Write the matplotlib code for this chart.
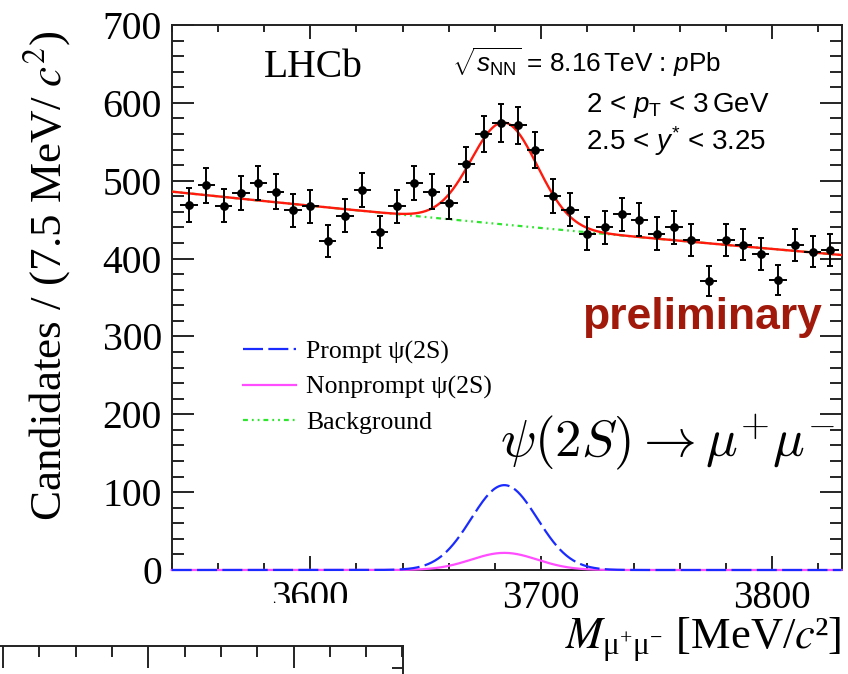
import numpy as np
import matplotlib
matplotlib.use("Agg")
import matplotlib.pyplot as plt
from matplotlib.ticker import MultipleLocator
from matplotlib.patches import Rectangle

# Dimuon invariant-mass bin centres [MeV/c^2] (7.5 MeV bins) and candidates per bin
mass = [3547.5, 3555.0, 3562.5, 3570.0, 3577.5, 3585.0, 3592.5, 3600.0,
        3607.5, 3615.0, 3622.5, 3630.0, 3637.5, 3645.0, 3652.5, 3660.0,
        3667.5, 3675.0, 3682.5, 3690.0, 3697.5, 3705.0, 3712.5, 3720.0,
        3727.5, 3735.0, 3742.5, 3750.0, 3757.5, 3765.0, 3772.5, 3780.0,
        3787.5, 3795.0, 3802.5, 3810.0, 3817.5, 3825.0]
counts = [469, 494, 468, 484, 497, 486, 462, 467,
          422, 455, 488, 434, 467, 497, 486, 472,
          521, 560, 574, 571, 539, 480, 463, 432,
          440, 457, 450, 432, 440, 424, 371, 424,
          418, 406, 373, 417, 409, 411]
half_bin = 3.75

# Fit result: Gaussian signal peaks on an exponential background
sig_mean = 3684.0
sig_sigma = 14.3
prompt_peak = 109.0
nonprompt_peak = 22.0
bkg_at_min = 486.0
bkg_at_max = 404.6

x_range = (3540.0, 3830.0)
y_range = (0.0, 700.0)

legend_labels = ["Prompt \u03c8(2S)", "Nonprompt \u03c8(2S)", "Background"]

SERIF = "Liberation Serif"
SANS = "Liberation Sans"
plt.rcParams["font.family"] = [SERIF, "DejaVu Serif"]
plt.rcParams["mathtext.fontset"] = "stix"
plt.rcParams["mathtext.rm"] = SANS
plt.rcParams["mathtext.it"] = SANS + ":italic"
plt.rcParams["mathtext.bf"] = SANS + ":bold"

W, H = 848, 674
fig = plt.figure(figsize=(W / 100, H / 100), dpi=100)
fig.patch.set_facecolor("white")

ax_l, ax_r, ax_t, ax_b = 171.7, 841.5, 25.0, 570.0
ax = fig.add_axes([ax_l / W, (H - ax_b) / H, (ax_r - ax_l) / W, (ax_b - ax_t) / H])

# model curves
m = np.linspace(x_range[0], x_range[1], 800)
bkg = bkg_at_min * (bkg_at_max / bkg_at_min) ** ((m - x_range[0]) / (x_range[1] - x_range[0]))
shape = np.exp(-0.5 * ((m - sig_mean) / sig_sigma) ** 2)
prompt = prompt_peak * shape
nonprompt = nonprompt_peak * shape
total = bkg + prompt + nonprompt

c_prompt = "#1a2bff"
c_nonprompt = "#ff4dff"
c_bkg = "#2ee62e"
c_total = "#ff1a0d"

h_np, = ax.plot(m, nonprompt, color=c_nonprompt, lw=1.6, clip_on=False, zorder=3)
h_p, = ax.plot(m, prompt, color=c_prompt, lw=1.6, ls=(0, (9, 2.4)), clip_on=False, zorder=3)
h_b, = ax.plot(m, bkg, color=c_bkg, lw=1.6, ls=(0, (2.2, 1.8, 0.8, 1.8, 0.8, 1.8)), zorder=3)
ax.plot(m, total, color=c_total, lw=1.7, zorder=4)

# data with Poisson errors
cnt = np.asarray(counts, dtype=float)
ax.errorbar(mass, cnt, yerr=np.sqrt(cnt), fmt="none", ecolor="black",
            elinewidth=1.4, capsize=2.4, capthick=1.4, zorder=5)
ax.errorbar(mass, cnt, xerr=half_bin, fmt="o", color="black", ms=5.3,
            elinewidth=1.4, capsize=0, zorder=6)

ax.set_xlim(*x_range)
ax.set_ylim(*y_range)

ax.xaxis.set_major_locator(MultipleLocator(100))
ax.xaxis.set_minor_locator(MultipleLocator(20))
ax.yaxis.set_major_locator(MultipleLocator(100))
ax.yaxis.set_minor_locator(MultipleLocator(20))
ax.tick_params(which="both", direction="in", top=True, right=True, width=1.2,
               colors="black", labelsize=28.5)
ax.tick_params(axis="x", which="major", length=10, pad=7.5, labelsize=28)
ax.tick_params(axis="x", which="minor", length=5)
ax.tick_params(axis="y", which="major", length=16, pad=7)
ax.tick_params(axis="y", which="minor", length=8.5)
for s in ax.spines.values():
    s.set_linewidth(1.4)
    s.set_color("#222222")

ax.set_ylabel("Candidates / (7.5 MeV/ $c^{2}$)", fontsize=32.5, loc="top")
ax.yaxis.set_label_coords((73 - ax_l) / (ax_r - ax_l), (ax_b - 30) / (ax_b - ax_t))
ax.set_xlabel(r"$M_{\mathregular{\mu^{+}\mu^{-}}}$ [MeV/$c$" + "\u00b2]", fontsize=32,
              loc="right", va="baseline")
ax.xaxis.set_label_coords(1.0, (ax_b - 649.5) / (ax_b - ax_t))


def axfrac(px, py):
    return (px - ax_l) / (ax_r - ax_l), (ax_b - py) / (ax_b - ax_t)


tx, ty = axfrac(264, 77)
ax.text(tx, ty, "LHCb", transform=ax.transAxes, fontsize=28.5, va="baseline")

tx, ty = axfrac(452, 71.7)
ax.text(tx, ty, r"$\sqrt{s_{\mathrm{NN}}}$ = 8.16$\,$TeV : $p$Pb", transform=ax.transAxes,
        fontsize=18.8, family=SANS, math_fontfamily="custom", va="baseline")
tx, ty = axfrac(586, 111.7)
ax.text(tx, ty, r"2 < $p_{\mathrm{T}}$ < 3$\,$GeV", transform=ax.transAxes,
        fontsize=20, family=SANS, math_fontfamily="custom", va="baseline")
tx, ty = axfrac(586, 150)
ax.text(tx, ty, r"2.5 < $y^{*}$ < 3.25", transform=ax.transAxes,
        fontsize=20, family=SANS, math_fontfamily="custom", va="baseline")

tx, ty = axfrac(822, 329)
ax.text(tx, ty, "preliminary", transform=ax.transAxes, fontsize=32, family=SANS,
        fontweight="bold", color="#a0190b", ha="right", va="baseline", zorder=7)

tx, ty = axfrac(836, 457)
ax.text(tx, ty, r"$\psi(2S) \rightarrow \mu^{+}\mu^{-}$", transform=ax.transAxes,
        fontsize=38, math_fontfamily="cm", ha="right", va="baseline", zorder=7)

lx, ly = axfrac(243, 340.5)
ax.legend([h_p, h_np, h_b], legend_labels, loc="upper left", bbox_to_anchor=(lx, ly),
          frameon=False, fontsize=18.5, handlelength=2.05, handletextpad=0.4,
          labelspacing=0.47, borderpad=0, borderaxespad=0)

# neighbouring panel frame at the bottom-left edge
fig.add_artist(Rectangle((0, 0), 404 / W, (H - 603) / H, transform=fig.transFigure,
                         facecolor="white", edgecolor="none", zorder=1))
left_px = -42.4
ax2 = fig.add_axes([left_px / W, 0, (403 - left_px) / W, (H - 646) / H])
ax2.set_zorder(2)
ax2.set_facecolor("white")
u_per_px = 1 / 36.3
ax2.set_xlim(4 - (148.3 - left_px) * u_per_px, 4 + (403 - 148.3) * u_per_px)
ax2.set_ylim(0, 1)
ax2.xaxis.tick_top()
ax2.yaxis.tick_right()
ax2.xaxis.set_major_locator(MultipleLocator(4))
ax2.xaxis.set_minor_locator(MultipleLocator(1))
ax2.set_yticks([(H - 668) / (H - 646)])
ax2.tick_params(which="both", direction="in", labeltop=False, labelright=False,
                labelbottom=False, labelleft=False, width=1.2, colors="black")
ax2.tick_params(axis="x", which="major", length=16)
ax2.tick_params(axis="x", which="minor", length=8)
ax2.tick_params(axis="y", which="major", length=8)
ax2.spines["left"].set_visible(False)
ax2.spines["bottom"].set_visible(False)
for s in ("top", "right"):
    ax2.spines[s].set_linewidth(1.4)
    ax2.spines[s].set_color("#222222")

fig.savefig("out.png", dpi=100)
